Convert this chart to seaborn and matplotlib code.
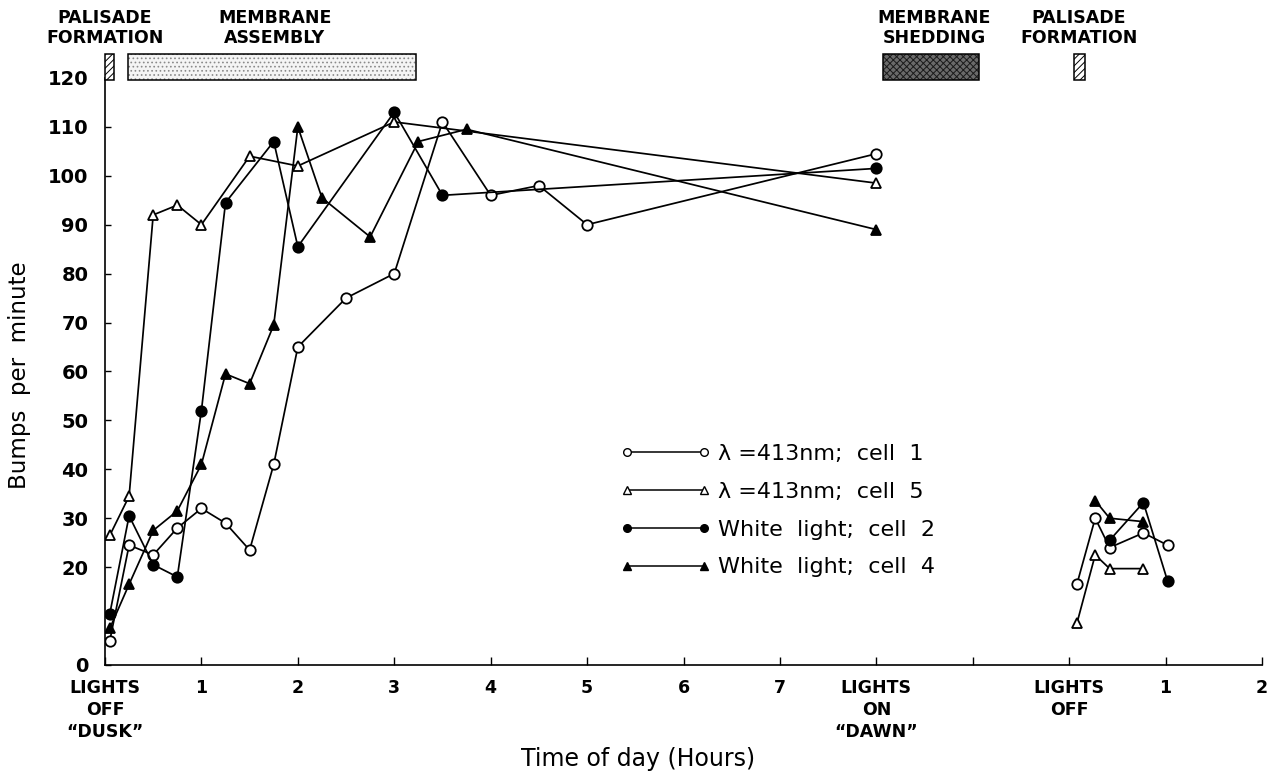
import matplotlib
matplotlib.use("Agg")
import matplotlib.pyplot as plt
import numpy as np
import pandas as pd
import seaborn as sns
from matplotlib.patches import Rectangle
from matplotlib.lines import Line2D

sns.set_theme(style="white")
plt.rcParams["font.family"] = ["DejaVu Sans"]
plt.rcParams["hatch.linewidth"] = 0.7
for k in ["text.color", "axes.labelcolor", "xtick.color", "ytick.color", "axes.edgecolor"]:
    plt.rcParams[k] = "black"

# ---------------- data ----------------
series_names = ["λ =413nm;  cell  1", "λ =413nm;  cell  5",
                "White  light;  cell  2", "White  light;  cell  4"]

c1_x = [0.05, 0.25, 0.5, 0.75, 1.0, 1.25, 1.5, 1.75, 2.0, 2.5, 3.0, 3.5, 4.0, 4.5, 5.0, 8.0]
c1_y = [5, 24.5, 22.5, 28, 32, 29, 23.5, 41, 65, 75, 80, 111, 96, 98, 90, 104.5]
c1_x2 = [10.08, 10.27, 10.42, 10.77, 11.02]
c1_y2 = [16.5, 30, 24, 27, 24.5]

c5_x = [0.05, 0.25, 0.5, 0.75, 1.0, 1.5, 2.0, 3.0, 8.0]
c5_y = [26.5, 34.5, 92, 94, 90, 104, 102, 111, 98.5]
c5_x2 = [10.08, 10.27, 10.42, 10.77]
c5_y2 = [8.5, 22.5, 19.7, 19.7]

c2_x = [0.05, 0.25, 0.5, 0.75, 1.0, 1.25, 1.75, 2.0, 3.0, 3.5, 8.0]
c2_y = [10.5, 30.5, 20.5, 18, 52, 94.5, 107, 85.5, 113, 96, 101.5]
c2_x2 = [10.42, 10.77, 11.02]
c2_y2 = [25.5, 33.2, 17.2]

c4_x = [0.05, 0.25, 0.5, 0.75, 1.0, 1.25, 1.5, 1.75, 2.0, 2.25, 2.75, 3.25, 3.75, 8.0]
c4_y = [7.5, 16.5, 27.5, 31.5, 41, 59.5, 57.5, 69.5, 110, 95.5, 87.5, 107, 109.5, 89]
c4_x2 = [10.27, 10.42, 10.77]
c4_y2 = [33.6, 30, 29.3]

x_tick_pos = [0, 1, 2, 3, 4, 5, 6, 7, 8, 9, 10, 11, 12]
x_tick_labels = ["LIGHTS\nOFF\n“DUSK”", "1", "2", "3", "4", "5", "6", "7",
                 "LIGHTS\nON\n“DAWN”", "", "LIGHTS\nOFF", "1", "2"]
y_tick_pos = [0, 20, 30, 40, 50, 60, 70, 80, 90, 100, 110, 120]

# phase bars: (label, x0, x1)
phase_labels = ["PALISADE\nFORMATION", "MEMBRANE\nASSEMBLY",
                "MEMBRANE\nSHEDDING", "PALISADE\nFORMATION"]
phase_x0 = [0.0, 0.24, 8.07, 10.05]
phase_x1 = [0.09, 3.23, 9.06, 10.16]
phase_label_x = [0.0, 1.76, 8.6, 10.1]

# ---------------- build table ----------------
rows = []
all_series = [
    (series_names[0], c1_x, c1_y, c1_x2, c1_y2),
    (series_names[1], c5_x, c5_y, c5_x2, c5_y2),
    (series_names[2], c2_x, c2_y, c2_x2, c2_y2),
    (series_names[3], c4_x, c4_y, c4_x2, c4_y2),
]
for name, xa, ya, xb, yb in all_series:
    for x, y in zip(xa, ya):
        rows.append((name, 1, x, y))
    for x, y in zip(xb, yb):
        rows.append((name, 2, x, y))
df = pd.DataFrame(rows, columns=["series", "seg", "time", "bumps"])

styles = {
    series_names[0]: dict(marker="o", mfc="white"),
    series_names[1]: dict(marker="^", mfc="white"),
    series_names[2]: dict(marker="o", mfc="black"),
    series_names[3]: dict(marker="^", mfc="black"),
}

# ---------------- figure ----------------
fig = plt.figure(figsize=(12.67, 7.76), dpi=100)
ax = fig.add_axes([105 / 1267, 111 / 776, 1157 / 1267, 614 / 776])

for name in series_names:
    sub = df[df["series"] == name]
    st = styles[name]
    sns.lineplot(data=sub, x="time", y="bumps", units="seg", estimator=None,
                 ax=ax, color="black", lw=1.25, marker=st["marker"],
                 markersize=7.5,
                 markerfacecolor=st["mfc"], markeredgecolor="black",
                 markeredgewidth=1.3, legend=False, sort=False)

ax.set_xlim(0, 12)
ax.set_ylim(0, 125.5)
ax.set_xlabel("")
ax.set_ylabel("")
ax.grid(False)

for s in ["top", "right"]:
    ax.spines[s].set_visible(False)
for s in ["left", "bottom"]:
    ax.spines[s].set_color("black")
    ax.spines[s].set_linewidth(1.2)
ax.spines["left"].set_bounds(0, 120)

ax.set_xticks(x_tick_pos)
ax.set_xticklabels(x_tick_labels, fontsize=12.5, fontweight="bold",
                   linespacing=1.3, va="top")
ax.set_yticks(y_tick_pos)
ax.set_yticklabels([str(v) for v in y_tick_pos], fontsize=14, fontweight="bold")
ax.tick_params(axis="x", direction="in", length=6, width=1.0, pad=10,
               colors="black", bottom=True)
ax.tick_params(axis="y", direction="in", length=4, width=1.0, pad=12,
               colors="black", left=True)

# phase bars
fills = [
    dict(fc="white", hatch="/////", ec="black"),
    dict(fc="#f4f4f4", hatch="....", ec="#8a8a8a"),
    dict(fc="#6a6a6a", hatch="xxxxx", ec="#1a1a1a"),
    dict(fc="white", hatch="/////", ec="black"),
]
for x0, x1, f in zip(phase_x0, phase_x1, fills):
    ax.add_patch(Rectangle((x0, 119.6), x1 - x0, 5.2, facecolor=f["fc"],
                           hatch=f["hatch"], edgecolor=f["ec"], lw=0,
                           clip_on=False, zorder=3))
    ax.add_patch(Rectangle((x0, 119.6), x1 - x0, 5.2, facecolor="none",
                           edgecolor="black", lw=1.1, clip_on=False, zorder=4))
for lab, lx in zip(phase_labels, phase_label_x):
    ax.text(lx, 130.2, lab, ha="center", va="center", fontsize=12.5,
            fontweight="bold", linespacing=1.15, clip_on=False)

# axis titles
fig.text(638 / 1267, 1 - 759 / 776, "Time of day (Hours)", ha="center",
         va="center", fontsize=17)
fig.text(20 / 1267, 1 - 375 / 776, "Bumps  per  minute", ha="center",
         va="center", rotation=90, fontsize=16.5)

# legend
handles = []
for name in series_names:
    st = styles[name]
    handles.append(Line2D([0], [0], color="black", lw=1.1, marker=st["marker"],
                          markersize=5.5, markerfacecolor=st["mfc"],
                          markeredgecolor="black", markeredgewidth=1.0))
leg = fig.legend(handles, series_names, loc="upper left",
                 bbox_to_anchor=(620 / 1267, 1 - 444 / 776), frameon=False,
                 numpoints=2, handlelength=4.1, handletextpad=0.3,
                 fontsize=16, labelspacing=0.8, borderpad=0, borderaxespad=0)

fig.savefig("out.png", dpi=100, facecolor="white")
